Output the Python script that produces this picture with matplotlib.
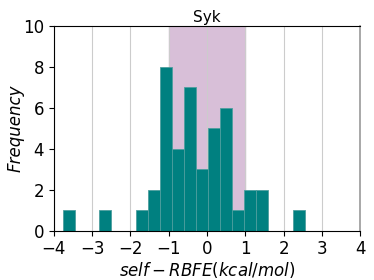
import matplotlib
matplotlib.use("Agg")
import matplotlib.pyplot as plt
import numpy as np

# histogram data (20 bins)
bin_start = -3.756
bin_width = 0.3153
counts = [1, 0, 0, 1, 0, 0, 1, 2, 8, 4, 7, 3, 5, 6, 1, 2, 2, 0, 0, 1]
title = "Syk"
xticks = [-4, -3, -2, -1, 0, 1, 2, 3, 4]
yticks = [0, 2, 4, 6, 8, 10]

edges = bin_start + bin_width * np.arange(len(counts) + 1)
centers = (edges[:-1] + edges[1:]) / 2

fig = plt.figure(figsize=(3.74, 2.8), dpi=100)
ax = fig.add_axes([0.144, 0.176, 0.819, 0.732])
ax.axvspan(-1, 1, color="#D8BFD8", zorder=0)
ax.grid(axis="x", color="#cccccc", linewidth=0.8, zorder=1)
ax.set_axisbelow(True)
ax.hist(centers, bins=edges, weights=counts, color="#008080",
        edgecolor="#4d9e9e", linewidth=0.6, zorder=2)
ax.set_xlim(-4, 4)
ax.set_ylim(0, 10)
ax.set_xticks(xticks)
ax.set_yticks(yticks)
ax.tick_params(labelsize=12)
ax.spines["right"].set_color("#999999")
ax.spines["right"].set_linewidth(1.2)
ax.set_title(title, fontsize=11, pad=3)
ax.set_ylabel("Frequency", fontsize=12, style="italic", labelpad=-1)
ax.set_xlabel(r"$self-RBFE (kcal/mol)$", fontsize=12, labelpad=1)
fig.savefig("out.png", dpi=100)
